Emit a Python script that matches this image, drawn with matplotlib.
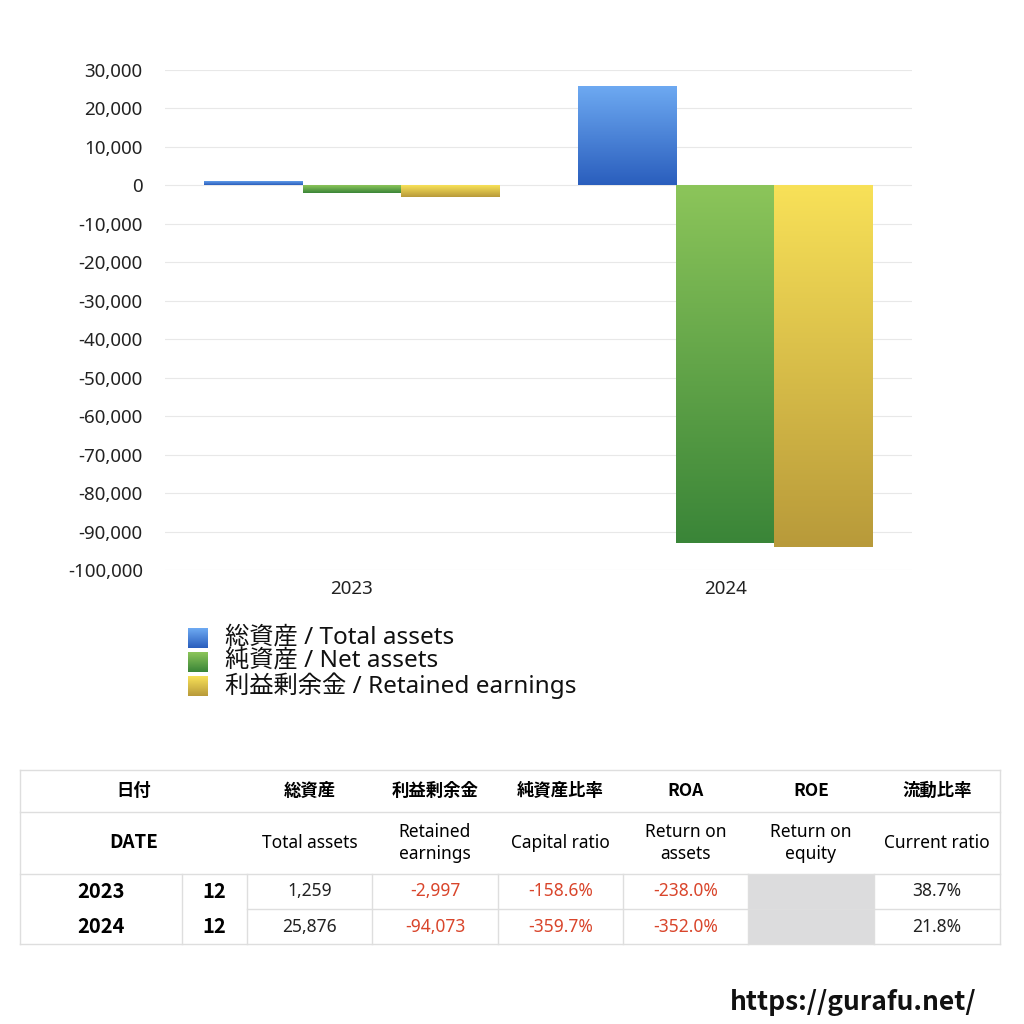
import numpy as np
import matplotlib.pyplot as plt
from matplotlib.colors import LinearSegmentedColormap

plt.rcParams['font.family'] = ['Noto Sans', 'Noto Sans CJK JP', 'DejaVu Sans']
BOLD = ['Noto Sans CJK JP', 'DejaVu Sans']

# chart data
years = ['2023', '2024']
total_assets = [1259, 25876]
net_assets = [-1997, -93076]
retained_earnings = [-2997, -94073]
series_names = ['総資産 / Total assets', '純資産 / Net assets', '利益剰余金 / Retained earnings']
yticks = list(range(-100000, 30001, 10000))

# table data
months = ['12', '12']
ta_text = ['1,259', '25,876']
re_text = ['-2,997', '-94,073']
capital_ratio = ['-158.6%', '-359.7%']
roa = ['-238.0%', '-352.0%']
roe = ['', '']
current_ratio = ['38.7%', '21.8%']
head_jp = ['総資産', '利益剰余金', '純資産比率', 'ROA', 'ROE', '流動比率']
head_en = ['Total assets', 'Retained\nearnings', 'Capital ratio', 'Return on\nassets', 'Return on\nequity', 'Current ratio']

# gradient colors (top, bottom)
grads = [('#6eaaf2', '#2a5ebd'), ('#8cc55a', '#3a8538'), ('#f8e158', '#b89a3a')]

W = H = 1024
fig = plt.figure(figsize=(10.24, 10.24), dpi=100)

# ---- bar chart ----
ax = fig.add_axes([165 / W, 1 - 570 / H, (912 - 165) / W, 500 / H])
x = np.arange(len(years))
bw = 0.263
series = [total_assets, net_assets, retained_earnings]
for i, vals in enumerate(series):
    cmap = LinearSegmentedColormap.from_list('g%d' % i, grads[i])
    grad = np.linspace(0, 1, 256).reshape(-1, 1)
    bars = ax.bar(x + (i - 1) * bw, vals, bw, color='none', edgecolor='none')
    for b in bars:
        x0 = b.get_x()
        y0, y1 = sorted([0, b.get_height()])
        im = ax.imshow(grad, cmap=cmap, extent=(x0, x0 + bw, y0, y1),
                       origin='upper', aspect='auto', zorder=2)
        im.set_clip_path(b)

ax.set_xlim(-0.5, 1.5)
ax.set_ylim(-100000, 30000)
ax.set_yticks(yticks)
ax.set_yticklabels(['{:,}'.format(v) for v in yticks], fontsize=13.5)
ax.set_xticks(x)
ax.set_xticklabels(years, fontsize=13.5)
ax.grid(axis='y', color='#e8e8e8', lw=0.8)
ax.set_axisbelow(True)
for s in ax.spines.values():
    s.set_visible(False)
ax.tick_params(length=0, pad=16, colors='#222222')
ax.tick_params(axis='x', pad=7)

# ---- overlay in pixel coords ----
ov = fig.add_axes([0, 0, 1, 1], zorder=5)
ov.patch.set_alpha(0)

# legend
for i, name in enumerate(series_names):
    cy = 638 + i * 24
    cmap = LinearSegmentedColormap.from_list('l%d' % i, grads[i])
    ov.imshow(np.linspace(0, 1, 64).reshape(-1, 1), cmap=cmap,
              extent=(188, 208, cy + 10, cy - 10), origin='upper', aspect='auto')
    ov.text(225, cy, name, fontsize=17.5, va='center', ha='left', color='#111111')

# table
lc = '#dedede'
col_x = [20, 182, 247, 372, 498, 623, 748, 874, 1000]
row_y = [770, 812, 874, 909, 944]
for y in [770, 812, 874, 944]:
    ov.plot([20, 1000], [y, y], color=lc, lw=1)
ov.plot([247, 1000], [909, 909], color=lc, lw=1)
ov.plot([20, 20], [770, 944], color=lc, lw=1)
ov.plot([1000, 1000], [770, 944], color=lc, lw=1)
for cx in col_x[1:-1]:
    ov.plot([cx, cx], [874, 944], color=lc, lw=1)
ov.fill_between([748, 874], 874.5, 943.5, color='#dcdcdd', lw=0)

ov.text(134, 791, '日付', ha='center', va='center', fontsize=12.5,
        fontweight='bold', family=BOLD)
ov.text(134, 843, 'DATE', ha='center', va='center', fontsize=13.5,
        fontweight='bold', family=BOLD)
for j in range(6):
    cx = (col_x[j + 2] + col_x[j + 3]) / 2
    ov.text(cx, 791, head_jp[j], ha='center', va='center', fontsize=12.5,
            fontweight='bold', family=BOLD)
    ov.text(cx, 843, head_en[j], ha='center', va='center', fontsize=12.5,
            linespacing=1.25)

red = '#d9452b'
for r in range(2):
    cy = (row_y[r + 2] + row_y[r + 3]) / 2
    ov.text(101, cy, years[r], ha='center', va='center', fontsize=14.5,
            fontweight='bold', family=BOLD)
    ov.text(214, cy, months[r], ha='center', va='center', fontsize=14.5,
            fontweight='bold', family=BOLD)
    vals = [ta_text[r], re_text[r], capital_ratio[r], roa[r], roe[r], current_ratio[r]]
    for j, v in enumerate(vals):
        cx = (col_x[j + 2] + col_x[j + 3]) / 2
        colr = red if v.startswith('-') else '#222222'
        ov.text(cx, cy, v, ha='center', va='center', fontsize=12.5, color=colr)

ov.text(853, 1003, 'https://gurafu.net/', ha='center', va='center', fontsize=19,
        fontweight='bold', family=BOLD, color='#111111')

ov.set_xlim(0, W)
ov.set_ylim(H, 0)
ov.axis('off')

fig.savefig('out.png', dpi=100, facecolor='white')
